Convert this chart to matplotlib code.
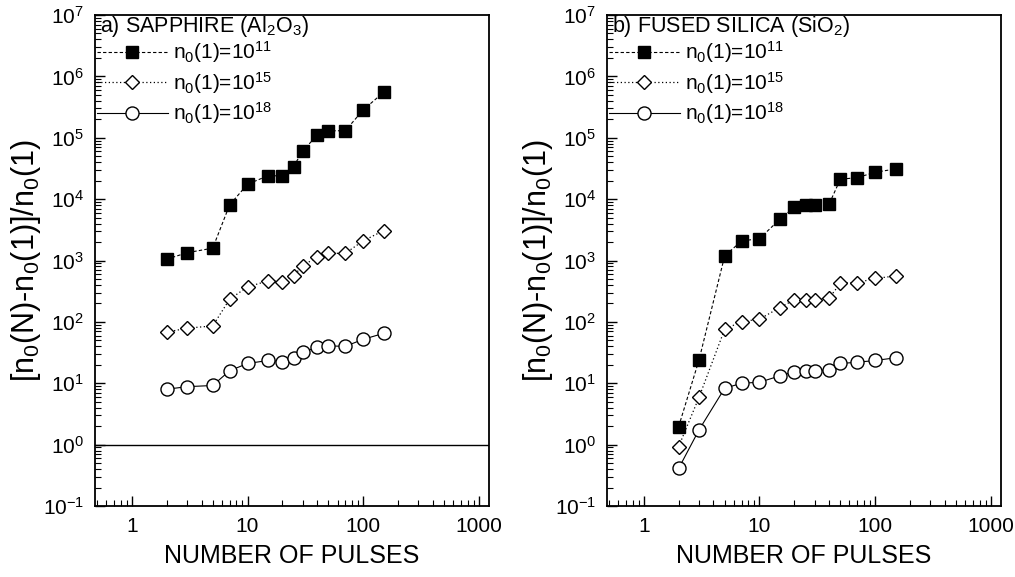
import matplotlib
matplotlib.use("Agg")
import matplotlib.pyplot as plt
from matplotlib.ticker import LogLocator, FixedLocator, NullFormatter

plt.rcParams['font.family'] = ['Liberation Sans', 'DejaVu Sans']
plt.rcParams['mathtext.fontset'] = 'custom'
plt.rcParams['mathtext.rm'] = 'Liberation Sans'
plt.rcParams['mathtext.it'] = 'Liberation Sans:italic'
plt.rcParams['mathtext.default'] = 'regular'
plt.rcParams['axes.unicode_minus'] = False

pulses = [2, 3, 5, 7, 10, 15, 20, 25, 30, 40, 50, 70, 100, 150]

sapphire_1e11 = [1050, 1340, 1590, 8050, 17500, 24000, 24000, 34000, 61000,
                 110000, 130000, 130000, 284000, 550000]
sapphire_1e15 = [68, 79, 86, 234, 372, 465, 455, 567, 817, 1150, 1310, 1310,
                 2090, 3070]
sapphire_1e18 = [8.0, 8.8, 9.2, 16, 21, 23.5, 22.6, 26, 32, 38.6, 40.6, 40,
                 52, 65]

silica_1e11 = [1.97, 24, 1190, 2080, 2275, 4700, 7380, 7950, 7950, 8300,
               21100, 22400, 27400, 31000]
silica_1e15 = [0.93, 5.9, 76, 101, 111, 171, 229, 229, 229, 243, 427, 436,
               510, 560]
silica_1e18 = [0.41, 1.74, 8.3, 10, 10.4, 13.2, 15.5, 16, 16, 16.5, 21, 22,
               23.5, 26]

labels = [r"n$_0$(1)=10$^{11}$", r"n$_0$(1)=10$^{15}$", r"n$_0$(1)=10$^{18}$"]
titles = [r"a) SAPPHIRE (Al$_2$O$_3$)", r"b) FUSED SILICA (SiO$_2$)"]
xticklabels = ["1", "10", "100", "1000"]
xticks = [1, 10, 100, 1000]

fig = plt.figure(figsize=(10.15, 5.77), dpi=100)
ax1 = fig.add_axes([0.0936, 0.123, 0.388, 0.851])
ax2 = fig.add_axes([0.598, 0.123, 0.388, 0.851])

datasets = [(sapphire_1e11, sapphire_1e15, sapphire_1e18),
            (silica_1e11, silica_1e15, silica_1e18)]

for ax, (d11, d15, d18), title in zip([ax1, ax2], datasets, titles):
    ax.plot(pulses, d11, linestyle=(0, (3, 2)), color='black', lw=0.8,
            marker='s', ms=9, mfc='black', mec='black', label=labels[0])
    ax.plot(pulses, d15, linestyle=(0, (1, 2)), color='black', lw=0.9,
            marker='D', ms=7, mfc='white', mec='black', mew=1.0, label=labels[1])
    ax.plot(pulses, d18, linestyle='-', color='black', lw=0.8,
            marker='o', ms=9.4, mfc='white', mec='black', mew=1.0, label=labels[2])
    ax.set_xscale('log')
    ax.set_yscale('log')
    ax.set_xlim(0.48, 1220)
    ax.set_ylim(0.1, 1e7)
    ax.xaxis.set_major_locator(FixedLocator(xticks))
    ax.set_xticklabels(xticklabels)
    ax.xaxis.set_minor_locator(LogLocator(base=10, subs=range(2, 10), numticks=20))
    ax.xaxis.set_minor_formatter(NullFormatter())
    ax.yaxis.set_major_locator(LogLocator(base=10, numticks=20))
    ax.yaxis.set_minor_locator(LogLocator(base=10, subs=range(2, 10), numticks=20))
    ax.yaxis.set_minor_formatter(NullFormatter())
    ax.tick_params(which='major', direction='in', length=7, width=1.0,
                   labelsize=15, top=False, right=False, pad=8)
    ax.tick_params(which='minor', direction='in', length=4, width=0.8,
                   top=False, right=False)
    for s in ax.spines.values():
        s.set_linewidth(1.3)
    ax.set_xlabel("NUMBER OF PULSES", fontsize=18, labelpad=6)
    ax.set_ylabel(r"[n$_0$(N)-n$_0$(1)]/n$_0$(1)", fontsize=22, labelpad=0)
    ax.text(0.012, 0.976, title, transform=ax.transAxes, fontsize=15.5,
            ha='left', va='center')
    ax.legend(loc='upper left', bbox_to_anchor=(0.005, 0.95), frameon=False,
              fontsize=15, handlelength=3.4, handletextpad=0.25,
              labelspacing=0.22, borderaxespad=0, borderpad=0)

ax1.axhline(1, color='black', lw=1.0)

fig.savefig("out.png", dpi=100)
